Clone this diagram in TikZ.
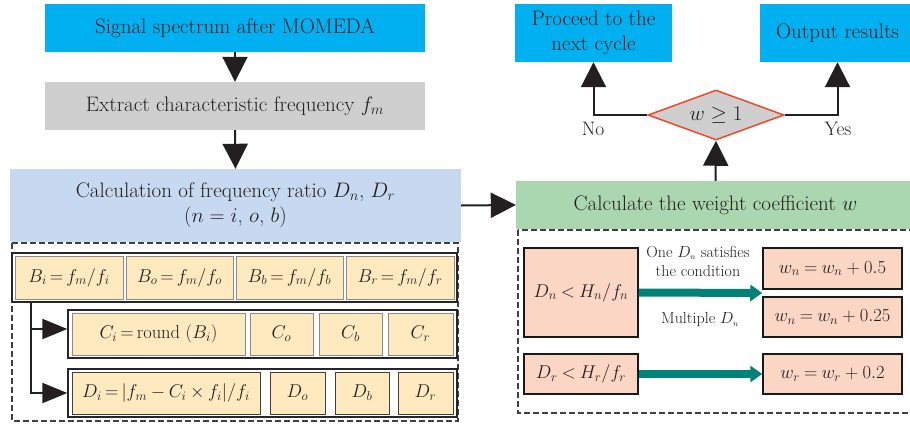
\documentclass[tikz,border=0pt]{standalone}
\usepackage{fix-cm}
\usetikzlibrary{arrows.meta,shapes.geometric,calc}
\definecolor{txt}{RGB}{35,31,32}
\definecolor{cyanbox}{RGB}{0,176,240}
\definecolor{graybox}{RGB}{208,207,207}
\definecolor{bluebox}{RGB}{199,217,240}
\definecolor{greenbox}{RGB}{170,214,176}
\definecolor{cellyel}{RGB}{255,234,192}
\definecolor{pinkbox}{RGB}{251,214,196}
\definecolor{tealc}{RGB}{0,130,120}
\definecolor{diared}{RGB}{240,72,40}
\begin{document}
\begin{tikzpicture}[x=1pt,y=-1pt,font=\fontsize{21}{25}\selectfont,
  every node/.style={text=txt},
  box/.style={inner sep=0pt, align=center},
  cell/.style={draw=black!45, line width=0.9pt, fill=cellyel, inner sep=0pt, font=\fontsize{18.5}{22}\selectfont,
    execute at begin node={\thickmuskip=3mu\medmuskip=3.5mu}},
  rowbox/.style={draw=black!85, line width=1.3pt, inner sep=0pt},
  pinkb/.style={draw=black!90, line width=1.5pt, fill=pinkbox, inner sep=0pt, font=\fontsize{18.5}{22}\selectfont,
    execute at begin node={\thickmuskip=4mu}},
  dashbox/.style={draw=black!75, line width=1.2pt, dash pattern=on 6pt off 3pt},
  arr/.style={draw=txt, line width=2pt, -{Triangle[width=25pt,length=25pt]}},
  arrsm/.style={draw=txt, line width=2pt, -{Triangle[width=20pt,length=25pt]}},
  tealarr/.style={draw=tealc, line width=8pt, -{Triangle[width=16pt,length=12pt]}},
  lbl/.style={font=\fontsize{16}{19}\selectfont, align=center},
  yn/.style={font=\fontsize{19.5}{22}\selectfont}]
\useasboundingbox (0,0) rectangle (910,423);

% left column
\node[box, fill=cyanbox, minimum width=380pt, minimum height=48pt] (s1) at (235,28) {Signal spectrum after MOMEDA};
\node[box, fill=graybox, minimum width=380pt, minimum height=48pt] (s2) at (235,106) {Extract characteristic frequency $f_m$};
\node[box, fill=bluebox, minimum width=451pt, minimum height=73pt] (s3) at (235.5,205.5) {Calculation of frequency ratio $D_n$, $D_r$\\($n=i$, $o$, $b$)};
\draw[arr] (s1.south) -- (s2.north);
\draw[arr] (s2.south) -- (s3.north);

% left dashed region
\draw[dashbox] (12,243) rectangle (458,421);
\node[rowbox, minimum width=445pt, minimum height=49pt] (rowB) at (234.5,277.5) {};
\node[cell, minimum width=108pt, minimum height=43pt] (Bi) at (69,277.5) {$B_i = f_m/f_i$};
\node[cell, minimum width=107pt, minimum height=43pt] (Bo) at (179.5,277.5) {$B_o = f_m/f_o$};
\node[cell, minimum width=107pt, minimum height=43pt] (Bb) at (289.5,277.5) {$B_b = f_m/f_b$};
\node[cell, minimum width=108pt, minimum height=43pt] (Br) at (400,277.5) {$B_r = f_m/f_r$};

\node[rowbox, minimum width=389pt, minimum height=48pt] (rowC) at (262.5,334) {};
\node[cell, minimum width=173pt, minimum height=42pt] (Ci) at (158.5,334) {$C_i = \mathrm{round}\ (B_i)$};
\node[cell, minimum width=63pt, minimum height=42pt] (Co) at (281.5,334) {$C_o$};
\node[cell, minimum width=63pt, minimum height=42pt] (Cb) at (350.5,334) {$C_b$};
\node[cell, minimum width=65pt, minimum height=42pt] (Cr) at (420.5,334) {$C_r$};

\node[rowbox, minimum width=389pt, minimum height=48pt] (rowD) at (262.5,393) {};
\node[cell, draw=black!75, minimum width=188pt, minimum height=42pt] (Di) at (166,393) {$D_i = |f_m - C_i \times f_i|/f_i$};
\node[cell, draw=black!75, minimum width=55pt, minimum height=42pt] (Do) at (297.5,393) {$D_o$};
\node[cell, draw=black!75, minimum width=54pt, minimum height=42pt] (Db) at (362,393) {$D_b$};
\node[cell, draw=black!75, minimum width=55pt, minimum height=42pt] (Dr) at (425.5,393) {$D_r$};

\draw[arrsm] ([xshift=20pt]rowB.south west) |- ([yshift=5pt]rowC.west);
\draw[arrsm] ([xshift=20pt]rowB.south west) |- (rowD.west);

% right column
\node[box, fill=greenbox, minimum width=399pt, minimum height=48pt] (g) at (715.5,205) {Calculate the weight coefficient $w$};
\draw[arr] (s3.east) -- (g.west);

\node[diamond, draw=diared, line width=1.5pt, fill=graybox, inner sep=0pt, aspect=2.72, minimum width=136pt, minimum height=50pt] (dia) at (716,115) {$w \geq 1$};
\draw[arr] (g.north) -- (dia.south);

\node[box, fill=cyanbox, minimum width=157pt, minimum height=58pt] (proc) at (593.5,33) {Proceed to the\\next cycle};
\node[box, fill=cyanbox, minimum width=155pt, minimum height=58pt] (outp) at (837.5,33) {Output results};
\draw[arr] (dia.west) -| (proc.south);
\draw[arr] (dia.east) -| (outp.south);
\node[yn] (no) at (593,129) {No};
\node[yn] (yes) at (838,129) {Yes};

% right dashed region
\draw[dashbox] (518,230) rectangle (916,413);
\node[pinkb, minimum width=114pt, minimum height=89pt] (Dn) at (581,292.5) {$D_n < H_n/f_n$};
\node[pinkb, minimum width=114pt, minimum height=40pt] (Drc) at (581,374) {$D_r < H_r/f_r$};
\node[pinkb, minimum width=139pt, minimum height=41pt] (wn1) at (832.5,268.5) {$w_n = w_n + 0.5$};
\node[pinkb, minimum width=139pt, minimum height=40pt] (wn2) at (832.5,317) {$w_n = w_n + 0.25$};
\node[pinkb, minimum width=139pt, minimum height=40pt] (wr) at (832.5,374) {$w_r = w_r + 0.2$};
\coordinate (gap) at ($(wn1.south west)!0.5!(wn2.north west)$);
\draw[tealarr] (Dn.east) -- (gap);
\draw[tealarr] (Drc.east) -- (wr.west);
\node[lbl] (one) at (698,261.5) {One $D_{\scriptscriptstyle n}$ satisfies\\the condition};
\node[lbl] (mult) at (700,320) {Multiple $D_{\scriptscriptstyle n}$};
\end{tikzpicture}
\end{document}
